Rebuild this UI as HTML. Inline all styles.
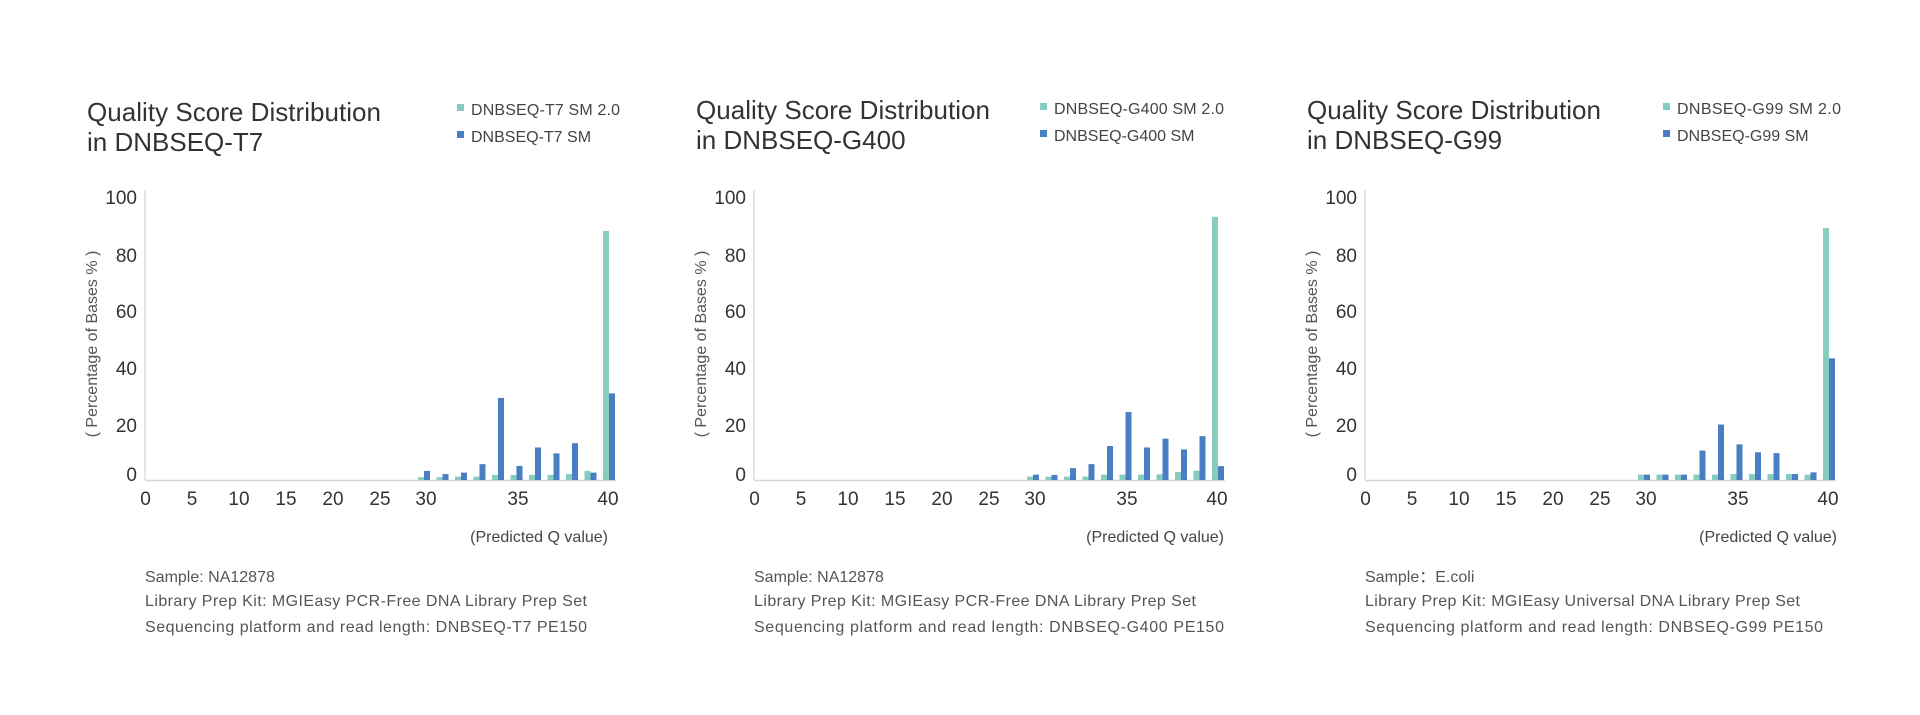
<!DOCTYPE html>
<html><head><meta charset="utf-8"><style>
html,body{margin:0;padding:0;background:#fff;}
svg{display:block;font-family:"Liberation Sans","Noto Sans CJK SC",sans-serif;}
</style></head><body>
<svg id="s" width="1920" height="715" viewBox="0 0 1920 715" xmlns="http://www.w3.org/2000/svg">
<g id="c0">
<text x="87" y="121" font-size="26" fill="#333" textLength="294">Quality Score Distribution</text>
<text x="87" y="151" font-size="26" fill="#333">in DNBSEQ-T7</text>
<rect x="457" y="104" width="7" height="7" fill="#88cbbf"/>
<text x="471" y="115" font-size="16" fill="#444" textLength="149">DNBSEQ-T7 SM 2.0</text>
<rect x="457" y="131" width="7" height="7" fill="#4a7ec2"/>
<text x="471" y="142" font-size="16" fill="#444">DNBSEQ-T7 SM</text>
<text x="608" y="542" font-size="16" fill="#444" text-anchor="end">(Predicted Q value)</text>
<text x="145" y="582" font-size="16" fill="#555">Sample: NA12878</text>
<text x="145" y="606" font-size="16" fill="#555" textLength="442">Library Prep Kit: MGIEasy PCR-Free DNA Library Prep Set</text>
<text x="145" y="632" font-size="16" fill="#555" textLength="442">Sequencing platform and read length: DNBSEQ-T7 PE150</text>
</g>
<g id="c1" transform="translate(609,0)">
<text x="87" y="119" font-size="26" fill="#333" textLength="294">Quality Score Distribution</text>
<text x="87" y="149" font-size="26" fill="#333">in DNBSEQ-G400</text>
<rect x="431" y="103" width="7" height="7" fill="#88cbbf"/>
<text x="445" y="114" font-size="16" fill="#444" textLength="170">DNBSEQ-G400 SM 2.0</text>
<rect x="431" y="130" width="7" height="7" fill="#4a7ec2"/>
<text x="445" y="141" font-size="16" fill="#444">DNBSEQ-G400 SM</text>
<text x="615" y="542" font-size="16" fill="#444" text-anchor="end">(Predicted Q value)</text>
<text x="145" y="582" font-size="16" fill="#555">Sample: NA12878</text>
<text x="145" y="606" font-size="16" fill="#555" textLength="442">Library Prep Kit: MGIEasy PCR-Free DNA Library Prep Set</text>
<text x="145" y="632" font-size="16" fill="#555" textLength="470">Sequencing platform and read length: DNBSEQ-G400 PE150</text>
</g>
<g id="c2" transform="translate(1220,0)">
<text x="87" y="119" font-size="26" fill="#333" textLength="294">Quality Score Distribution</text>
<text x="87" y="149" font-size="26" fill="#333">in DNBSEQ-G99</text>
<rect x="443" y="103" width="7" height="7" fill="#88cbbf"/>
<text x="457" y="114" font-size="16" fill="#444" textLength="164">DNBSEQ-G99 SM 2.0</text>
<rect x="443" y="130" width="7" height="7" fill="#4a7ec2"/>
<text x="457" y="141" font-size="16" fill="#444">DNBSEQ-G99 SM</text>
<text x="617" y="542" font-size="16" fill="#444" text-anchor="end">(Predicted Q value)</text>
<text x="145" y="582" font-size="16" fill="#555">Sample：E.coli</text>
<text x="145" y="606" font-size="16" fill="#555" textLength="435">Library Prep Kit: MGIEasy Universal DNA Library Prep Set</text>
<text x="145" y="632" font-size="16" fill="#555" textLength="458">Sequencing platform and read length: DNBSEQ-G99 PE150</text>
</g>
</svg>
<script>
var NS="http://www.w3.org/2000/svg";
var data=[
 [[1,3.2],[1,2.1],[1.2,2.6],[1.2,5.6],[1.8,29],[1.8,5],[1.8,11.5],[1.8,9.4],[2.1,13],[3.2,2.6],[88,30.6]],
 [[1.2,1.9],[1.2,1.8],[1.2,4.2],[1.2,5.6],[1.9,12],[1.9,24],[1.9,11.5],[2,14.6],[2.8,10.8],[3.3,15.5],[93,4.9]],
 [[1.9,1.9],[1.9,1.9],[1.9,1.9],[1.9,10.4],[1.9,19.6],[2.1,12.6],[2.1,9.8],[2.1,9.5],[2.1,2.1],[1.9,2.7],[89,43]]
];
function el(g,t,a,txt){var e=document.createElementNS(NS,t);for(var k in a)e.setAttribute(k,a[k]);if(txt!=null)e.textContent=txt;g.appendChild(e);return e;}
for(var i=0;i<3;i++){
 var g=document.getElementById("c"+i);
 el(g,"line",{x1:145,y1:190,x2:145,y2:480,stroke:"#ddd","stroke-width":1.5});
 el(g,"line",{x1:145,y1:480.5,x2:616,y2:480.5,stroke:"#d6d6d6","stroke-width":1.5});
 var yl=[[100,204],[80,262],[60,318],[40,375],[20,432],[0,481]];
 yl.forEach(function(p){el(g,"text",{x:137,y:p[1],"font-size":19,fill:"#333","text-anchor":"end"},String(p[0]));});
 var xl=[[0,145.5],[5,192],[10,239],[15,286],[20,333],[25,380],[30,426],[35,518],[40,608]];
 xl.forEach(function(p){el(g,"text",{x:p[1],y:505,"font-size":19,fill:"#333","text-anchor":"middle"},String(p[0]));});
 var yt=el(g,"text",{x:0,y:0,"font-size":16,fill:"#555","text-anchor":"middle",transform:"translate(97,344) rotate(-90)"},"( Percentage of Bases % )");
 data[i].forEach(function(d,k){
  var c=424+18.5*k;
  var h1=d[0]*2.83,h2=d[1]*2.83;
  el(g,"rect",{x:c-6,y:480-h1,width:6,height:h1,fill:"#88cbbf"});
  el(g,"rect",{x:c,y:480-h2,width:6,height:h2,fill:"#4a7ec2"});
 });
}
</script>
</body></html>
